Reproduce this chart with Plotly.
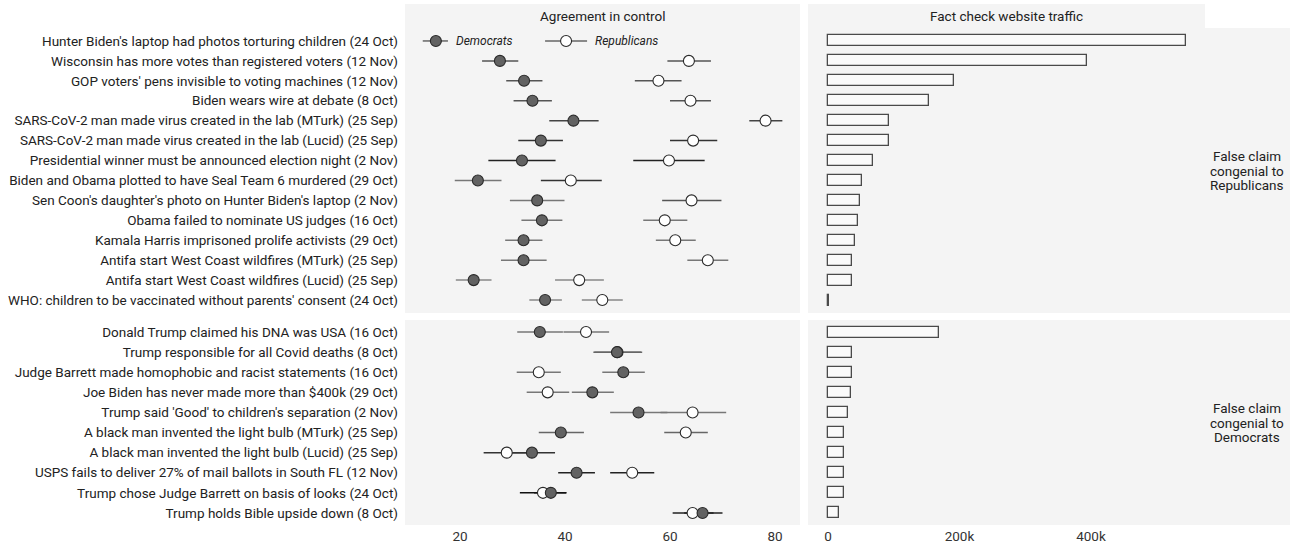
import plotly.graph_objects as go

# ---------------- data ----------------
rep_claims = [
    "Hunter Biden's laptop had photos torturing children (24 Oct)",
    "Wisconsin has more votes than registered voters (12 Nov)",
    "GOP voters' pens invisible to voting machines (12 Nov)",
    "Biden wears wire at debate (8 Oct)",
    "SARS-CoV-2 man made virus created in the lab (MTurk) (25 Sep)",
    "SARS-CoV-2 man made virus created in the lab (Lucid) (25 Sep)",
    "Presidential winner must be announced election night (2 Nov)",
    "Biden and Obama plotted to have Seal Team 6 murdered (29 Oct)",
    "Sen Coon's daughter's photo on Hunter Biden's laptop (2 Nov)",
    "Obama failed to nominate US judges (16 Oct)",
    "Kamala Harris imprisoned prolife activists (29 Oct)",
    "Antifa start West Coast wildfires (MTurk) (25 Sep)",
    "Antifa start West Coast wildfires (Lucid) (25 Sep)",
    "WHO: children to be vaccinated without parents' consent (24 Oct)",
]
rep_dem_est = [15.4, 27.6, 32.2, 33.8, 41.6, 35.4, 31.8, 23.4, 34.7, 35.6, 32.1, 32.1, 22.6, 36.2]
rep_dem_lo  = [12.9, 24.2, 28.8, 30.2, 37.0, 31.1, 25.4, 19.0, 29.5, 31.7, 28.6, 27.8, 19.2, 33.2]
rep_dem_hi  = [17.7, 31.1, 35.7, 37.5, 46.4, 39.6, 38.2, 27.9, 39.9, 39.5, 35.7, 36.5, 26.0, 39.4]
rep_rep_est = [40.2, 63.6, 57.8, 63.9, 78.2, 64.4, 59.8, 41.1, 64.1, 59.0, 61.0, 67.2, 42.7, 47.1]
rep_rep_lo  = [36.2, 59.5, 53.3, 60.0, 75.1, 60.0, 53.0, 35.4, 58.5, 54.9, 57.3, 63.3, 38.1, 43.2]
rep_rep_hi  = [44.2, 67.8, 62.2, 67.8, 81.4, 69.0, 66.6, 47.0, 69.8, 63.3, 64.9, 71.1, 47.4, 51.0]
rep_traffic = [545000, 394000, 191000, 154000, 93000, 93000, 69000, 51000, 49000, 46000, 41000, 36000, 36000, 1500]

dem_claims = [
    "Donald Trump claimed his DNA was USA (16 Oct)",
    "Trump responsible for all Covid deaths (8 Oct)",
    "Judge Barrett made homophobic and racist statements (16 Oct)",
    "Joe Biden has never made more than $400k (29 Oct)",
    "Trump said 'Good' to children's separation (2 Nov)",
    "A black man invented the light bulb (MTurk) (25 Sep)",
    "A black man invented the light bulb (Lucid) (25 Sep)",
    "USPS fails to deliver 27% of mail ballots in South FL (12 Nov)",
    "Trump chose Judge Barrett on basis of looks (24 Oct)",
    "Trump holds Bible upside down (8 Oct)",
]
dem_dem_est = [35.2, 49.9, 51.1, 45.2, 54.0, 39.2, 33.7, 42.2, 37.3, 66.2]
dem_dem_lo  = [30.9, 45.4, 47.1, 41.3, 48.6, 35.0, 29.5, 38.7, 34.1, 62.7]
dem_dem_hi  = [39.6, 54.7, 55.2, 49.3, 59.5, 43.6, 38.1, 45.7, 40.3, 70.0]
dem_rep_est = [44.0, 50.0, 35.0, 36.7, 64.3, 63.0, 28.9, 52.8, 35.8, 64.3]
dem_rep_lo  = [39.7, 45.6, 30.8, 32.7, 58.2, 58.9, 24.5, 48.6, 31.4, 60.5]
dem_rep_hi  = [48.4, 54.5, 39.2, 40.8, 70.7, 67.2, 33.3, 57.0, 40.2, 68.3]
dem_traffic = [169000, 36500, 36000, 34500, 30000, 25000, 25000, 24800, 23800, 17000]

left_ticks = [20, 40, 60, 80]
right_ticks = [0, 200000, 400000]
right_ticktext = ["0", "200k", "400k"]

facet_col_labels = ["Agreement in control", "Fact check website traffic"]
facet_row_labels = [["False claim", "congenial to", "Republicans"],
                    ["False claim", "congenial to", "Democrats"]]

# ---------------- styles ----------------
rep_dem_ci_col = ["#666", "#555", "#555", "#555", "#444", "#333", "#222", "#777", "#777", "#777", "#777", "#777", "#888", "#888"]
rep_rep_ci_col = ["#666", "#555", "#555", "#555", "#444", "#333", "#222", "#333", "#555", "#777", "#777", "#777", "#888", "#888"]
dem_dem_ci_col = ["#777", "#666", "#777", "#777", "#777", "#666", "#333", "#222", "#111", "#222"]
dem_rep_ci_col = ["#777", "#666", "#777", "#777", "#777", "#666", "#333", "#222", "#111", "#222"]

W, H = 1290, 546
PANEL_BG = "#f4f4f4"
FONT = "Roboto"
FS = 13.5
def px_x(p): return p / W
def px_y(p): return 1 - p / H

LX0, LX1 = 405, 800
RX0, RX1 = 808, 1205
TY0, TY1 = 28, 313
BY0, BY1 = 320, 525

fig = go.Figure()

def add_ci(est_lo, est_hi, cols, ax, ay):
    for i, (lo, hi, c) in enumerate(zip(est_lo, est_hi, cols)):
        fig.add_trace(go.Scatter(x=[lo, hi], y=[i, i], mode="lines",
                                 line=dict(color=c, width=1.5),
                                 xaxis=ax, yaxis=ay, showlegend=False, hoverinfo="skip"))

def add_pts(est, n, filled, ax, ay):
    fig.add_trace(go.Scatter(x=est, y=list(range(n)), mode="markers",
                             marker=dict(size=11, color="#626262" if filled else "white",
                                         line=dict(color="#2a2a2a", width=1.1)),
                             xaxis=ax, yaxis=ay, showlegend=False))

# top panel (congenial to Republicans)
add_ci(rep_dem_lo, rep_dem_hi, rep_dem_ci_col, "x", "y")
add_ci(rep_rep_lo, rep_rep_hi, rep_rep_ci_col, "x", "y")
add_pts(rep_dem_est, len(rep_claims), True, "x", "y")
add_pts(rep_rep_est, len(rep_claims), False, "x", "y")
# bottom panel (congenial to Democrats)
add_ci(dem_dem_lo, dem_dem_hi, dem_dem_ci_col, "x3", "y3")
add_ci(dem_rep_lo, dem_rep_hi, dem_rep_ci_col, "x3", "y3")
add_pts(dem_rep_est, len(dem_claims), False, "x3", "y3")
add_pts(dem_dem_est, len(dem_claims), True, "x3", "y3")

bar_style = dict(orientation="h", width=0.55, marker=dict(color="#fafafa", line=dict(color="#4a4a4a", width=1.3)),
                 showlegend=False)
fig.add_trace(go.Bar(x=rep_traffic, y=list(range(len(rep_claims))), xaxis="x2", yaxis="y2", **bar_style))
fig.add_trace(go.Bar(x=dem_traffic, y=list(range(len(dem_claims))), xaxis="x4", yaxis="y4", **bar_style))

nR, nD = len(rep_claims), len(dem_claims)
lrange = [9.52, 84.76]
rrange = [-30400, 573400]
tickfont = dict(family=FONT, size=FS, color="#333333")
common_x = dict(showgrid=False, zeroline=False, showline=False, ticks="", tickfont=tickfont)
common_y = dict(showgrid=False, zeroline=False, showline=False, ticks="")

fig.update_layout(
    width=W, height=H, margin=dict(l=0, r=0, t=0, b=0),
    paper_bgcolor="white", plot_bgcolor=PANEL_BG,
    font=dict(family=FONT, size=FS, color="#222"),
    bargap=0,
    xaxis=dict(domain=[px_x(LX0), px_x(LX1)], range=lrange, anchor="y", showticklabels=False, **common_x),
    xaxis2=dict(domain=[px_x(RX0), px_x(RX1)], range=rrange, anchor="y2", showticklabels=False, **common_x),
    xaxis3=dict(domain=[px_x(LX0), px_x(LX1)], range=lrange, anchor="y3", tickvals=left_ticks,
                ticklabelstandoff=1, **common_x),
    xaxis4=dict(domain=[px_x(RX0), px_x(RX1)], range=rrange, anchor="y4", tickvals=right_ticks,
                ticktext=right_ticktext, ticklabelstandoff=1, **common_x),
    yaxis=dict(domain=[px_y(TY1), px_y(TY0)], range=[nR - 1 + 0.65, -0.65], anchor="x",
               tickvals=list(range(nR)), ticktext=rep_claims, ticklabelstandoff=6,
               tickfont=dict(family=FONT, size=FS, color="#222"), **common_y),
    yaxis2=dict(domain=[px_y(TY1), px_y(TY0)], range=[nR - 1 + 0.65, -0.65], anchor="x2",
                showticklabels=False, **common_y),
    yaxis3=dict(domain=[px_y(BY1), px_y(BY0)], range=[nD - 1 + 0.6, -0.6], anchor="x3",
                tickvals=list(range(nD)), ticktext=dem_claims, ticklabelstandoff=6,
                tickfont=dict(family=FONT, size=FS, color="#222"), **common_y),
    yaxis4=dict(domain=[px_y(BY1), px_y(BY0)], range=[nD - 1 + 0.6, -0.6], anchor="x4",
                showticklabels=False, **common_y),
)

# strips
shapes = []
for x0, x1 in [(LX0, LX1), (RX0, RX1)]:
    shapes.append(dict(type="rect", xref="paper", yref="paper", x0=px_x(x0), x1=px_x(x1),
                       y0=px_y(TY0), y1=px_y(4), fillcolor=PANEL_BG, line=dict(width=0), layer="below"))
for y0, y1 in [(TY0, TY1), (BY0, BY1)]:
    shapes.append(dict(type="rect", xref="paper", yref="paper", x0=px_x(RX1), x1=1,
                       y0=px_y(y1), y1=px_y(y0), fillcolor=PANEL_BG, line=dict(width=0), layer="below"))
fig.update_layout(shapes=shapes)

annotations = []
def strip_text(text, xp, yp):
    annotations.append(dict(text=text, x=px_x(xp), y=px_y(yp), xref="paper", yref="paper",
                            showarrow=False, xanchor="center", yanchor="middle",
                            font=dict(family=FONT, size=FS, color="#222")))

strip_text(facet_col_labels[0], (LX0 + LX1) / 2, 16)
strip_text(facet_col_labels[1], (RX0 + RX1) / 2, 16)
LINE = 14.3
for lines, (y0, y1) in zip(facet_row_labels, [(TY0, TY1), (BY0, BY1)]):
    mid = (y0 + y1) / 2
    for k, line in enumerate(lines):
        strip_text(line, 1247, mid + (k - 1) * LINE)

# direct labels for the series next to the first row
annotations.append(dict(text="<i>Democrats</i>", x=rep_dem_hi[0] + 1.2, y=0, xref="x", yref="y",
                        xanchor="left", yanchor="middle", showarrow=False,
                        font=dict(family=FONT, size=12, color="#222")))
annotations.append(dict(text="<i>Republicans</i>", x=rep_rep_hi[0] + 1.2, y=0, xref="x", yref="y",
                        xanchor="left", yanchor="middle", showarrow=False,
                        font=dict(family=FONT, size=12, color="#222")))
fig.update_layout(annotations=annotations)

fig.write_html("out.html", config={"displayModeBar": False},
               post_script="document.body.style.margin='0';document.body.style.overflow='hidden';")
